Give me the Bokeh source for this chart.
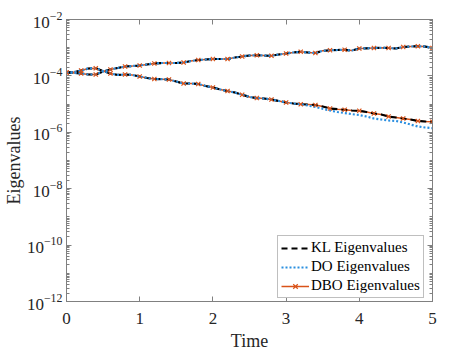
from bokeh.plotting import figure
from bokeh.models import FixedTicker, LogAxis, LinearAxis, Legend, LegendItem, Range1d, CustomJSTickFormatter
from bokeh.embed import file_html
from bokeh.resources import INLINE

time = [round(0.1 * i, 1) for i in range(51)]

kl_upper = [1.32e-4, 1.27e-4, 1.22e-4, 1.12e-4, 1.12e-4, 1.43e-4, 1.69e-4, 1.91e-4, 2.15e-4, 2.24e-4,
            2.34e-4, 2.54e-4, 2.75e-4, 2.87e-4, 2.87e-4, 2.87e-4, 2.99e-4, 3.37e-4, 3.66e-4, 3.82e-4,
            3.97e-4, 3.97e-4, 3.97e-4, 4.49e-4, 4.87e-4, 5.28e-4, 5.42e-4, 5.28e-4, 5.16e-4, 5.74e-4,
            6.22e-4, 6.76e-4, 7.16e-4, 6.76e-4, 6.49e-4, 7.76e-4, 8.09e-4, 8.28e-4, 8.43e-4, 7.96e-4,
            9.37e-4, 9.53e-4, 9.75e-4, 9.91e-4, 9.75e-4, 9.37e-4, 1.06e-3, 1.10e-3, 1.13e-3, 1.10e-3,
            9.75e-4]
kl_lower = [1.32e-4, 1.37e-4, 1.55e-4, 1.83e-4, 1.87e-4, 1.49e-4, 1.22e-4, 1.08e-4, 1.12e-4, 1.08e-4,
            9.53e-5, 8.43e-5, 7.76e-5, 7.64e-5, 7.45e-5, 6.32e-5, 5.37e-5, 5.37e-5, 5.16e-5, 4.39e-5,
            3.88e-5, 3.30e-5, 2.92e-5, 2.58e-5, 2.14e-5, 1.79e-5, 1.64e-5, 1.58e-5, 1.46e-5, 1.29e-5,
            1.14e-5, 1.05e-5, 9.91e-6, 9.68e-6, 9.29e-6, 8.22e-6, 6.98e-6, 6.59e-6, 6.28e-6, 5.93e-6,
            5.78e-6, 5.25e-6, 4.65e-6, 4.28e-6, 3.63e-6, 3.35e-6, 3.08e-6, 2.84e-6, 2.52e-6, 2.42e-6,
            2.36e-6]
do_upper = list(kl_upper)
do_lower = [1.32e-4, 1.37e-4, 1.55e-4, 1.83e-4, 1.87e-4, 1.49e-4, 1.22e-4, 1.08e-4, 1.12e-4, 1.08e-4,
            9.53e-5, 8.43e-5, 7.76e-5, 7.64e-5, 7.45e-5, 6.32e-5, 5.37e-5, 5.37e-5, 5.16e-5, 4.39e-5,
            3.88e-5, 3.30e-5, 2.92e-5, 2.58e-5, 2.14e-5, 1.79e-5, 1.64e-5, 1.58e-5, 1.46e-5, 1.29e-5,
            1.14e-5, 1.05e-5, 9.91e-6, 8.91e-6, 7.89e-6, 6.81e-6, 5.93e-6, 5.25e-6, 4.83e-6, 4.39e-6,
            4.10e-6, 3.63e-6, 3.08e-6, 2.84e-6, 2.62e-6, 2.52e-6, 2.23e-6, 1.89e-6, 1.61e-6, 1.48e-6,
            1.40e-6]
dbo_upper = list(kl_upper)
dbo_lower = list(kl_lower)

x_ticks = [0, 1, 2, 3, 4, 5]
y_ticks = [1e-12, 1e-10, 1e-8, 1e-6, 1e-4, 1e-2]
y_minor = [k * 10.0 ** n for n in range(-12, -2) for k in range(1, 10)] + [1e-2]

FONT = "'Liberation Serif', 'Times New Roman', serif"
TXT = "#262626"
AX = "#808080"

p = figure(width=459, height=348, y_axis_type="log",
           x_range=Range1d(0, 5), y_range=Range1d(1e-12, 1e-2),
           output_backend="svg", toolbar_location=None,
           min_border_left=56, min_border_right=37, min_border_top=19, min_border_bottom=47)
p.frame_width = 366
p.frame_height = 282
p.grid.visible = False
p.outline_line_color = AX
p.background_fill_color = "white"
p.border_fill_color = "white"

mk = slice(0, None, 2)

r_dbo = []
for ys in (dbo_upper, dbo_lower):
    r_dbo.append(p.line(time, ys, line_color="#D95319", line_width=1.5))
r_kl = []
for ys in (kl_upper, kl_lower):
    r_kl.append(p.line(time, ys, line_color="black", line_width=2.2, line_dash="6 4"))
r_do = []
for ys in (do_upper, do_lower):
    r_do.append(p.line(time, ys, line_color="#2b8fe0", line_width=2.2, line_dash="2 2"))
for ys in (dbo_upper, dbo_lower):
    r_dbo.append(p.scatter(time[mk], ys[mk], marker="x", size=6, line_color="#D95319", line_width=1.2))

xa = p.xaxis[0]
ya = p.yaxis[0]
xa.ticker = FixedTicker(ticks=x_ticks)
ya.ticker = FixedTicker(ticks=y_ticks, minor_ticks=y_minor)
for a in (xa, ya):
    a.axis_line_color = AX
    a.major_tick_line_color = AX
    a.minor_tick_line_color = AX
    a.major_tick_in = 5
    a.major_tick_out = 0
    a.minor_tick_in = 3
    a.minor_tick_out = 0
    a.major_label_text_font = FONT
    a.major_label_text_font_size = "17px"
    a.major_label_text_color = TXT
    a.axis_label_text_font = FONT
    a.axis_label_text_font_size = "18px"
    a.axis_label_text_font_style = "normal"
    a.axis_label_text_color = TXT
xa.axis_label = "Time"
ya.axis_label = "Eigenvalues"
xa.major_label_standoff = 11
xa.axis_label_standoff = 4
ya.major_label_standoff = 4
ya.axis_label_standoff = 0

blank = CustomJSTickFormatter(code="return '';")
ra = LogAxis(ticker=FixedTicker(ticks=y_ticks, minor_ticks=y_minor), formatter=blank)
ta = LinearAxis(ticker=FixedTicker(ticks=x_ticks), formatter=blank)
for a in (ra, ta):
    a.axis_line_color = AX
    a.major_tick_line_color = AX
    a.minor_tick_line_color = AX
    a.major_tick_in = 5
    a.major_tick_out = 0
    a.minor_tick_in = 3
    a.minor_tick_out = 0
    a.major_label_standoff = 0
p.add_layout(ra, "right")
p.add_layout(ta, "above")

legend = Legend(items=[
    LegendItem(label="KL Eigenvalues", renderers=[r_kl[0]]),
    LegendItem(label="DO Eigenvalues", renderers=[r_do[0]]),
    LegendItem(label="DBO Eigenvalues", renderers=[r_dbo[0], r_dbo[2]]),
], location=(211, 3))
legend.label_text_font = FONT
legend.label_text_font_size = "15px"
legend.label_text_color = "black"
legend.border_line_color = AX
legend.border_line_width = 1
legend.background_fill_color = "white"
legend.background_fill_alpha = 1
legend.glyph_width = 28
legend.glyph_height = 16
legend.label_standoff = 2
legend.spacing = 2
legend.padding = 3
legend.margin = 0
legend.label_height = 16
p.add_layout(legend)

open("out.html", "w").write(file_html(p, INLINE))
